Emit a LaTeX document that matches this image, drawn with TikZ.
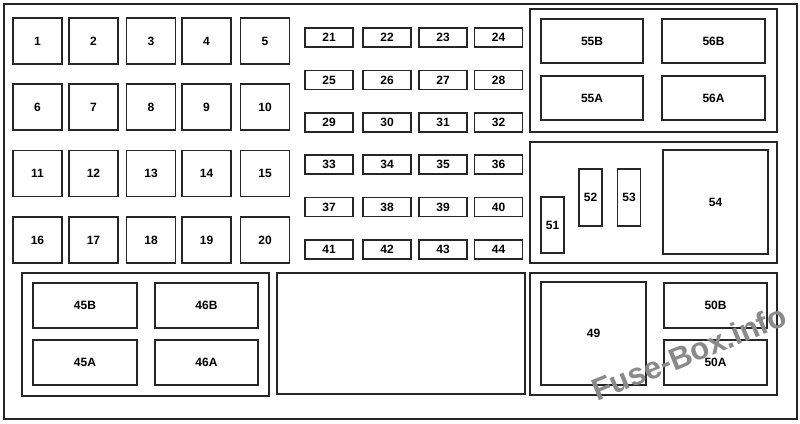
\documentclass[tikz,border=0pt]{standalone}
\usepackage{fontspec}
\setmainfont{Liberation Sans}
\begin{document}
\begin{tikzpicture}[x=1pt,y=-1pt,
  box/.style={draw=black!85, line width=1.8pt, inner sep=0pt, fill=white},
  fuse/.style={box, font=\bfseries\fontsize{12}{12}\selectfont},
  bigfuse/.style={fuse, minimum width=49pt, minimum height=46pt},
  minifuse/.style={fuse, minimum width=48pt, minimum height=19pt},
  frame/.style={draw=black!85, line width=1.8pt}]
\useasboundingbox (0,0) rectangle (800,423);
\draw[frame] (4,4) rectangle (797,419);
% big fuses 1-20
\foreach \r/\y in {0/41,1/107,2/173.5,3/240}{
  \foreach \c/\x in {1/37.5,2/93.5,3/151,4/206.5,5/265}{
    \pgfmathtruncatemacro{\n}{\r*5+\c}
    \node[bigfuse] (f\n) at (\x,\y) {\n};
  }
}
% mini fuses 21-44
\foreach \r/\y in {0/37.5,1/80,2/122.5,3/164.5,4/207,5/249.5}{
  \foreach \c/\x in {1/329,2/387,3/443,4/498.5}{
    \pgfmathtruncatemacro{\n}{20+\r*4+\c}
    \node[minifuse] (f\n) at (\x,\y) {\n};
  }
}
% group top right
\node[box, minimum width=247pt, minimum height=123pt] (g1) at (653.5,70.5) {};
\node[fuse, minimum width=102pt, minimum height=44pt] (f55B) at (592,41) {55B};
\node[fuse, minimum width=103pt, minimum height=44pt] (f56B) at (713.5,41) {56B};
\node[fuse, minimum width=102pt, minimum height=44pt] (f55A) at (592,98) {55A};
\node[fuse, minimum width=103pt, minimum height=44pt] (f56A) at (713.5,98) {56A};
% group middle right
\node[box, minimum width=247pt, minimum height=121pt] (g2) at (653.5,202.5) {};
\node[fuse, minimum width=23pt, minimum height=56pt] (f51) at (552.5,225) {51};
\node[fuse, minimum width=23pt, minimum height=57pt] (f52) at (590.5,197.5) {52};
\node[fuse, minimum width=23pt, minimum height=57pt] (f53) at (629,197.5) {53};
\node[fuse, minimum width=105pt, minimum height=104pt] (f54) at (715.5,202) {54};
% group bottom right
\node[box, minimum width=247pt, minimum height=122pt] (g3) at (653.5,334) {};
\node[fuse, minimum width=105pt, minimum height=103pt] (f49) at (593.5,333.5) {49};
\node[fuse, minimum width=103pt, minimum height=45pt] (f50B) at (715.5,305.5) {50B};
\node[fuse, minimum width=103pt, minimum height=45pt] (f50A) at (715.5,362.5) {50A};
% group bottom left
\node[box, minimum width=247pt, minimum height=123pt] (g4) at (145.5,334.5) {};
\node[fuse, minimum width=104pt, minimum height=45pt] (f45B) at (85,305.5) {45B};
\node[fuse, minimum width=103pt, minimum height=45pt] (f46B) at (206.5,305.5) {46B};
\node[fuse, minimum width=104pt, minimum height=45pt] (f45A) at (85,362.5) {45A};
\node[fuse, minimum width=103pt, minimum height=45pt] (f46A) at (206.5,362.5) {46A};
% middle empty box
\node[box, minimum width=248pt, minimum height=121pt] (mid) at (401,333.5) {};
% watermark
\definecolor{wm}{RGB}{138,138,138}
\node[text=wm, font=\bfseries\fontsize{31}{31}\selectfont, rotate=22, inner sep=0pt] (wmk) at (689,353) {Fuse-Box.info};
\end{tikzpicture}
\end{document}
